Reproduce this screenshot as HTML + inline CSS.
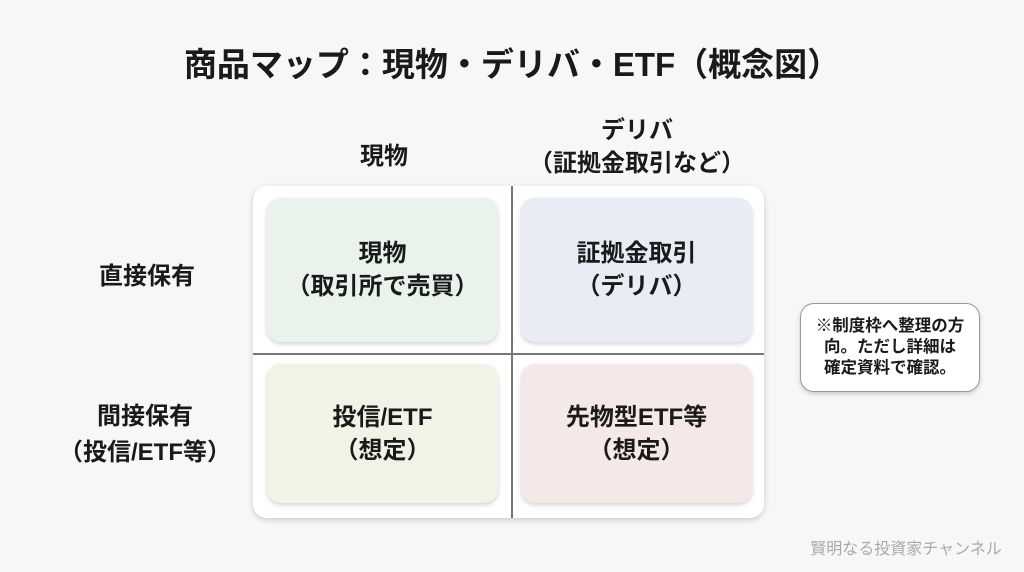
<!DOCTYPE html>
<html><head><meta charset="utf-8"><style>
body{margin:0;width:1024px;height:572px;background:#f7f7f5;font-family:"Liberation Sans","Noto Sans CJK JP",sans-serif;position:relative;overflow:hidden;color:#1a1a1a}
.t{position:absolute;text-align:center;white-space:nowrap}
.outer{position:absolute;left:253px;top:186px;width:511px;height:332px;background:#fff;border-radius:14px;box-shadow:0 2px 6px rgba(0,0,0,.18)}
.c{position:absolute;border-radius:14px;box-shadow:0 2px 5px rgba(0,0,0,.18);display:flex;align-items:center;justify-content:center;text-align:center;font-size:24px;font-weight:700;line-height:33px}
</style></head><body>
<div class="t" style="left:0;width:1024px;top:38px;font-size:33px;font-weight:700">商品マップ：現物・デリバ・ETF（概念図）</div>
<div class="t" style="left:334px;width:100px;top:136px;font-size:24px;font-weight:700">現物</div>
<div class="t" style="left:507px;width:260px;top:114px;font-size:24px;font-weight:700;line-height:33px">デリバ<br>（証拠金取引など）</div>
<div class="t" style="left:77px;width:140px;top:256px;font-size:24px;font-weight:700">直接保有</div>
<div class="t" style="left:50px;width:190px;top:399px;font-size:24px;font-weight:700;line-height:36px">間接保有<br>（投信/ETF等）</div>
<div class="outer"></div>
<div style="position:absolute;left:511px;top:186px;width:1.5px;height:332px;background:#777"></div>
<div style="position:absolute;left:253px;top:353px;width:511px;height:1.5px;background:#777"></div>
<div class="c" style="left:267px;top:198px;width:231px;height:144px;background:#e9f3ec">現物<br>（取引所で売買）</div>
<div class="c" style="left:521px;top:198px;width:231px;height:144px;background:#e8ecf5">証拠金取引<br>（デリバ）</div>
<div class="c" style="left:267px;top:364px;width:231px;height:139px;background:#f2f3e6">投信/ETF<br>（想定）</div>
<div class="c" style="left:521px;top:364px;width:231px;height:139px;background:#f5e9e8">先物型ETF等<br>（想定）</div>
<div class="c" style="left:800px;top:303px;width:180px;height:89px;background:#fff;border:1px solid #999;box-sizing:border-box;font-size:16.5px;line-height:21px;font-weight:700">※制度枠へ整理の方<br>向。ただし詳細は<br>確定資料で確認。</div>
<div class="t" style="left:810px;width:192px;top:535px;font-size:16px;color:#aaa">賢明なる投資家チャンネル</div>
</body></html>
